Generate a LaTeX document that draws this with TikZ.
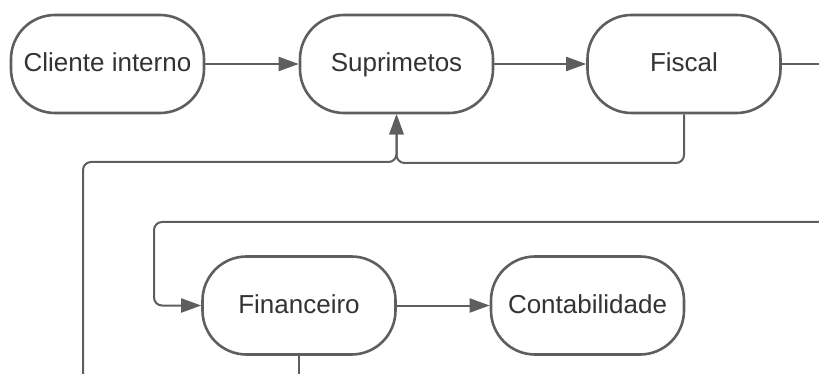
\documentclass[tikz,border=0pt]{standalone}
\usepackage{fontspec}
\setmainfont{Liberation Sans}
\usetikzlibrary{arrows.meta}
\definecolor{edgegray}{HTML}{5E5E5E}
\definecolor{textgray}{HTML}{333333}
\tikzset{
  procbox/.style={draw=edgegray, line width=2.6pt, rounded corners=44pt, fill=white,
    minimum width=193pt, minimum height=98pt, inner sep=0pt, text=textgray,
    text height=19pt, text depth=3pt,
    font=\fontsize{26}{30}\selectfont},
  conn/.style={draw=edgegray, line width=2pt, rounded corners=8pt},
  arr/.style={conn, -{Triangle[length=20pt,width=14pt]}}
}
\begin{document}
\begin{tikzpicture}[x=1pt,y=-1pt]
\useasboundingbox (0,0) rectangle (819,374);
\node[procbox] (cli) at (107.5,64) {Cliente interno};
\node[procbox] (sup) at (396.5,64) {Suprimetos};
\node[procbox] (fis) at (684,64) {Fiscal};
\node[procbox] (fin) at (299,305.5) {Financeiro};
\node[procbox] (con) at (587.5,305.5) {Contabilidade};
\coordinate (fisout) at (819,64);
\coordinate (loopin) at (819,222);
\coordinate (finout) at (299,374);
\coordinate (leftin) at (83,374);
\draw[arr] (cli.east) -- (sup.west);
\draw[arr] (sup.east) -- (fis.west);
\draw[conn] (fis.east) -- (fisout);
\draw[arr] (fis.south) -- (684,163) -- (396.5,163) -- (sup.south);
\draw[arr] (leftin) -- (83,162) -- (396.5,162) -- (sup.south);
\draw[conn] (fin.south) -- (finout);
\draw[arr] (loopin) -- (154,222) -- (154,305.5) -- (fin.west);
\draw[arr] (fin.east) -- (con.west);
\end{tikzpicture}
\end{document}
